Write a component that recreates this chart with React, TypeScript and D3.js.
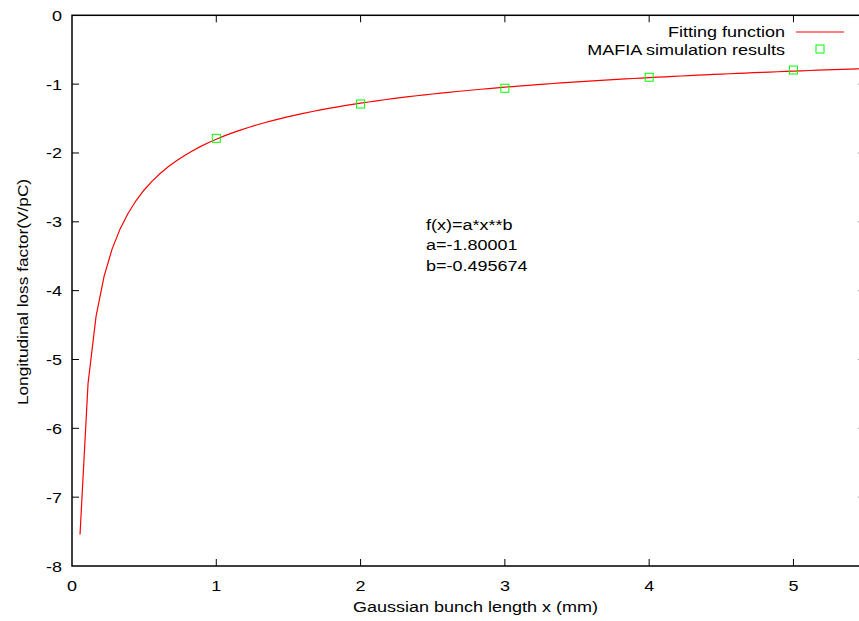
import React from "react";
import * as d3 from "d3";

const xTicks = [0, 1, 2, 3, 4, 5];
const yTicks = [0, -1, -2, -3, -4, -5, -6, -7, -8];
const mafiaX = [1, 2, 3, 4, 5];
const mafiaY = [-1.787, -1.289, -1.06, -0.9, -0.795];
const fitA = -1.80001;
const fitB = -0.495674;
const fitLabels = ["f(x)=a*x**b", "a=-1.80001", "b=-0.495674"];

const W = 859;
const H = 621;
const M = { left: 72, right: 865.6, top: 15.3, bottom: 566 };
const FONT = "'Liberation Sans', Arial, sans-serif";
const FS = 15;
const SX = 1.2;

function T(props: { x: number; y: number; anchor?: string; sx?: number; children: React.ReactNode }) {
  const { x, y, anchor = "start", sx = SX, children } = props;
  return (
    <text
      transform={`translate(${x},${y}) scale(${sx},1)`}
      textAnchor={anchor}
      fontFamily={FONT}
      fontSize={FS}
      fill="#000"
    >
      {children}
    </text>
  );
}

export default function App() {
  const x = d3.scaleLinear().domain([0, 5.5]).range([M.left, M.right]);
  const y = d3.scaleLinear().domain([-8, 0]).range([M.bottom, M.top]);
  const samples = d3.range(1, 100).map((i) => (i * 5.5) / 99);
  const fitPts: [number, number][] = samples.map((s) => [s, fitA * Math.pow(s, fitB)]);
  const line = d3
    .line<[number, number]>()
    .x((d) => x(d[0]))
    .y((d) => y(d[1]));
  const tick = 7;
  return (
    <svg width={W} height={H} style={{ position: "absolute", left: 0, top: 0, background: "#fff" }}>
      <defs>
        <clipPath id="clip">
          <rect x={M.left} y={M.top} width={M.right - M.left} height={M.bottom - M.top} />
        </clipPath>
      </defs>
      {xTicks.map((t) => (
        <g key={"x" + t}>
          {t !== 0 && (
            <>
              <line x1={x(t)} x2={x(t)} y1={M.bottom} y2={M.bottom - tick} stroke="#000" strokeWidth={1} />
              <line x1={x(t)} x2={x(t)} y1={M.top} y2={M.top + tick} stroke="#000" strokeWidth={1} />
            </>
          )}
          <T x={x(t)} y={M.bottom + 25} anchor="middle">
            {t}
          </T>
        </g>
      ))}
      {yTicks.map((t) => (
        <g key={"y" + t}>
          {t !== 0 && t !== -8 && (
            <>
              <line x1={M.left} x2={M.left + tick} y1={y(t)} y2={y(t)} stroke="#000" strokeWidth={1} />
              <line x1={M.right} x2={M.right - tick} y1={y(t)} y2={y(t)} stroke="#000" strokeWidth={1} />
            </>
          )}
          <T x={M.left - 10} y={y(t) + 5.5} anchor="end">
            {t}
          </T>
        </g>
      ))}
      <rect
        x={M.left}
        y={M.top}
        width={M.right - M.left}
        height={M.bottom - M.top}
        fill="none"
        stroke="#000"
        strokeWidth={1.5}
      />
      {/* legend */}
      <T x={785} y={37} anchor="end">
        Fitting function
      </T>
      <line x1={796} x2={844} y1={32} y2={32} stroke="#ff0000" strokeWidth={1.2} />
      <T x={785} y={54.5} anchor="end">
        MAFIA simulation results
      </T>
      <rect x={816} y={45} width={8} height={8} fill="none" stroke="#00ff00" strokeWidth={1} />
      {/* curve */}
      <path d={line(fitPts) || ""} fill="none" stroke="#ff0000" strokeWidth={1.2} clipPath="url(#clip)" />
      {/* points */}
      {mafiaX.map((v, i) => (
        <rect
          key={"p" + i}
          x={x(v) - 4}
          y={y(mafiaY[i]) - 4}
          width={8}
          height={8}
          fill="none"
          stroke="#00ff00"
          strokeWidth={1}
        />
      ))}
      {/* annotation */}
      {fitLabels.map((s, i) => (
        <T key={"f" + i} x={426} y={229.5 + i * 20.5}>
          {s}
        </T>
      ))}
      {/* axis labels */}
      <T x={(M.left + 859) / 2 + 10} y={612} anchor="middle">
        Gaussian bunch length x (mm)
      </T>
      <text
        transform={`translate(28, 292) rotate(-90) scale(1.15,1)`}
        textAnchor="middle"
        fontFamily={FONT}
        fontSize={FS}
        fill="#000"
      >
        Longitudinal loss factor(V/pC)
      </text>
    </svg>
  );
}
